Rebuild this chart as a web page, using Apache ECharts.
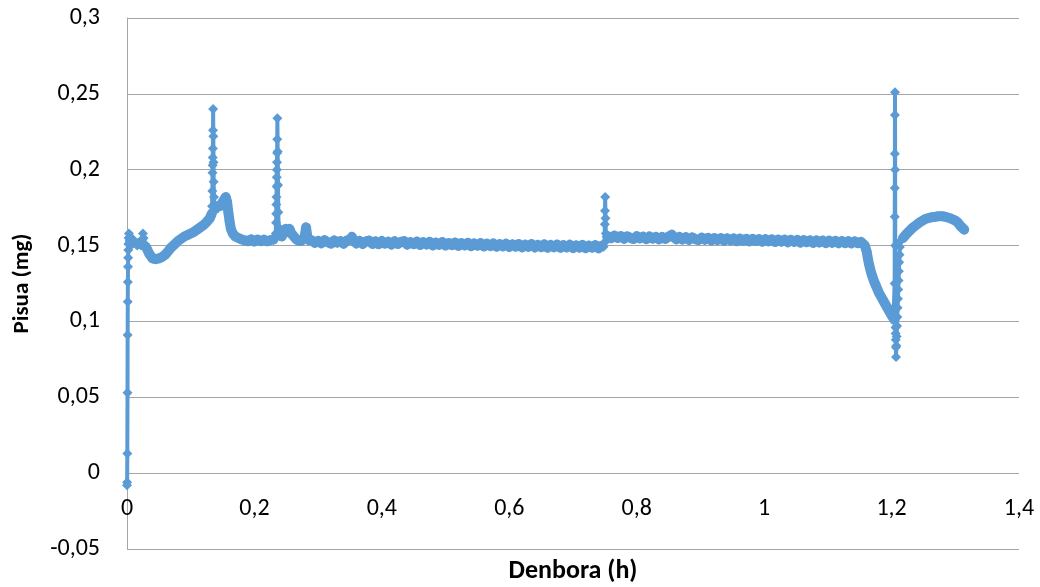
<!DOCTYPE html>
<html>
<head>
<meta charset="utf-8">
<script src="https://cdn.jsdelivr.net/npm/echarts@6/dist/echarts.min.js"></script>
<style>
html,body{margin:0;padding:0;background:#fff;}
#chart{width:1040px;height:587px;}
</style>
</head>
<body>
<div id="chart"></div>
<script>
// Axis settings
const xTicks = [0, 0.2, 0.4, 0.6, 0.8, 1, 1.2, 1.4];
const yTicks = [-0.05, 0, 0.05, 0.1, 0.15, 0.2, 0.25, 0.3];
const xTitle = 'Denbora (h)';
const yTitle = 'Pisua (mg)';

// Data segments [hours, mg], in recording order
const startRise = [
  [0.000,-0.008],[0.0002,-0.006],[0.0005,0.013],[0.0008,0.053],[0.001,0.091],[0.0012,0.113],
  [0.0014,0.126],[0.0016,0.136],[0.0018,0.142],[0.002,0.147],[0.0022,0.151],[0.0025,0.155],
  [0.003,0.158],[0.004,0.153],[0.005,0.156],[0.006,0.150],[0.008,0.154],[0.010,0.152],
  [0.012,0.153],[0.014,0.151],[0.016,0.150],[0.018,0.152],[0.020,0.151],[0.022,0.150],
  [0.024,0.154],[0.025,0.158],[0.026,0.155],[0.028,0.151]
];
const firstHump = [
  [0.030,0.149],[0.035,0.1445],[0.040,0.1415],[0.045,0.141],[0.050,0.1415],[0.055,0.1425],
  [0.060,0.144],[0.065,0.1465],[0.070,0.149],[0.075,0.151],[0.080,0.153],[0.085,0.1545],
  [0.090,0.156],[0.095,0.157],[0.100,0.158],[0.105,0.159],[0.110,0.1605],[0.115,0.162],
  [0.120,0.1635],[0.125,0.1655],[0.130,0.168],[0.133,0.171]
];
const spikeOne = [
  [0.1335,0.176],[0.134,0.186],[0.1342,0.198],[0.1344,0.203],[0.1346,0.208],[0.1348,0.214],
  [0.135,0.226],[0.1352,0.240],[0.1355,0.222],[0.1358,0.205],[0.136,0.192],[0.1365,0.182],
  [0.137,0.176],[0.138,0.174],[0.140,0.176],[0.143,0.175],[0.146,0.176],[0.149,0.178],
  [0.152,0.180],[0.155,0.182],[0.157,0.179],[0.159,0.172],[0.161,0.166],[0.163,0.161],
  [0.166,0.158],[0.170,0.156],[0.175,0.155],[0.180,0.154]
];
const plateauOne = [
  [0.185,0.1535],[0.190,0.1528],[0.195,0.1541],[0.200,0.1527],[0.205,0.1540],[0.210,0.1529],
  [0.215,0.1539],[0.220,0.1528],[0.225,0.1536],[0.230,0.1540]
];
const spikeTwo = [
  [0.2335,0.158],[0.234,0.165],[0.2342,0.171],[0.2344,0.177],[0.2346,0.182],[0.2348,0.189],
  [0.235,0.195],[0.2352,0.200],[0.2354,0.205],[0.2356,0.211],[0.2358,0.220],[0.236,0.234],
  [0.2365,0.212],[0.237,0.190],[0.2375,0.172],[0.238,0.162],[0.240,0.158],[0.243,0.156],
  [0.246,0.159],[0.249,0.161],[0.252,0.159],[0.255,0.161],[0.258,0.158],[0.262,0.156],
  [0.266,0.154],[0.270,0.153],[0.275,0.1535],[0.279,0.156],[0.281,0.162],[0.283,0.156],
  [0.286,0.1535]
];
const plateauTwo = [
  [0.290,0.1535],[0.295,0.1518],[0.300,0.1531],[0.305,0.1515],[0.310,0.1536],[0.315,0.1522],
  [0.320,0.1513],[0.325,0.1534],[0.330,0.1519],[0.335,0.1530],[0.340,0.1512],[0.345,0.1533],
  [0.350,0.1540],[0.353,0.1558],[0.356,0.1530],[0.360,0.1514],[0.365,0.1531],[0.370,0.1510],
  [0.375,0.1528],[0.380,0.1533],[0.385,0.1511],[0.390,0.1527],[0.395,0.1508],[0.400,0.1530],
  [0.405,0.1513],[0.410,0.1526],[0.415,0.1506],[0.420,0.1528],[0.425,0.1511],[0.430,0.1524],
  [0.435,0.1530],[0.440,0.1506],[0.445,0.1523],[0.450,0.1509],[0.455,0.1527],[0.460,0.1504],
  [0.465,0.1522],[0.470,0.1507],[0.475,0.1525],[0.480,0.1501],[0.485,0.1520],[0.490,0.1505],
  [0.495,0.1523],[0.500,0.1500],[0.505,0.1517],[0.510,0.1503],[0.515,0.1521],[0.520,0.1498],
  [0.525,0.1516],[0.530,0.1501],[0.535,0.1519],[0.540,0.1496],[0.545,0.1514],[0.550,0.1499],
  [0.555,0.1517],[0.560,0.1494],[0.565,0.1512],[0.570,0.1497],[0.575,0.1514],[0.580,0.1492],
  [0.585,0.1510],[0.590,0.1495],[0.595,0.1512],[0.600,0.1491],[0.605,0.1508],[0.610,0.1493],
  [0.615,0.1511],[0.620,0.1489],[0.625,0.1506],[0.630,0.1492],[0.635,0.1510],[0.640,0.1488],
  [0.645,0.1505],[0.650,0.1490],[0.655,0.1508],[0.660,0.1486],[0.665,0.1504],[0.670,0.1489],
  [0.675,0.1507],[0.680,0.1485],[0.685,0.1503],[0.690,0.1488],[0.695,0.1505],[0.700,0.1484],
  [0.705,0.1501],[0.710,0.1487],[0.715,0.1504],[0.720,0.1483],[0.725,0.1500],[0.730,0.1486],
  [0.735,0.1503],[0.740,0.1482],[0.745,0.1499]
];
const stepUp = [
  [0.748,0.1492],[0.7495,0.152],[0.750,0.164],[0.7502,0.173],[0.7505,0.182],[0.751,0.168],
  [0.7515,0.158],[0.753,0.1558]
];
const plateauThree = [
  [0.755,0.1562],[0.760,0.1549],[0.765,0.1566],[0.770,0.1550],[0.775,0.1563],[0.780,0.1545],
  [0.785,0.1561],[0.790,0.1551],[0.795,0.1543],[0.800,0.1562],[0.805,0.1547],[0.810,0.1559],
  [0.815,0.1542],[0.820,0.1560],[0.825,0.1546],[0.830,0.1558],[0.835,0.1541],[0.840,0.1557],
  [0.845,0.1544],[0.850,0.1559],[0.855,0.1572],[0.858,0.1556],[0.862,0.1541],[0.867,0.1557],
  [0.872,0.1540],[0.877,0.1555],[0.882,0.1538],[0.887,0.1554],[0.892,0.1542],[0.897,0.1536],
  [0.902,0.1553],[0.907,0.1538],[0.912,0.1551],[0.917,0.1534],[0.922,0.1550],[0.927,0.1536],
  [0.932,0.1549],[0.937,0.1532],[0.942,0.1548],[0.947,0.1534],[0.952,0.1547],[0.957,0.1530],
  [0.962,0.1546],[0.967,0.1532],[0.972,0.1545],[0.977,0.1528],[0.982,0.1544],[0.987,0.1530],
  [0.992,0.1543],[0.997,0.1526],[1.002,0.1542],[1.007,0.1528],[1.012,0.1541],[1.017,0.1524],
  [1.022,0.1540],[1.027,0.1526],[1.032,0.1539],[1.037,0.1522],[1.042,0.1538],[1.047,0.1524],
  [1.052,0.1537],[1.057,0.1520],[1.062,0.1536],[1.067,0.1522],[1.072,0.1535],[1.077,0.1518],
  [1.082,0.1534],[1.087,0.1520],[1.092,0.1533],[1.097,0.1516],[1.102,0.1532],[1.107,0.1518],
  [1.112,0.1531],[1.117,0.1515],[1.122,0.1530],[1.127,0.1516],[1.132,0.1529],[1.137,0.1514],
  [1.142,0.1528],[1.147,0.1515],[1.152,0.1525],[1.155,0.1515]
];
const dropDown = [
  [1.158,0.150],[1.161,0.146],[1.163,0.141],[1.165,0.137],[1.168,0.132],[1.172,0.127],
  [1.176,0.123],[1.180,0.119],[1.184,0.116],[1.188,0.113],[1.192,0.110],[1.196,0.107],
  [1.200,0.104],[1.203,0.102],[1.2045,0.101]
];
const spikeThree = [
  [1.2048,0.125],[1.205,0.169],[1.2051,0.188],[1.2052,0.2105],[1.2053,0.236],[1.2054,0.251],
  [1.2056,0.200],[1.2058,0.150],[1.206,0.110],[1.2062,0.096],[1.2064,0.092],[1.2066,0.088],
  [1.2068,0.083],[1.207,0.0765],[1.2075,0.084],[1.208,0.090],[1.2085,0.097],[1.209,0.103],
  [1.2095,0.109],[1.210,0.115],[1.2105,0.121],[1.211,0.127],[1.2115,0.133],[1.212,0.139],
  [1.2125,0.144],[1.213,0.149],[1.214,0.153]
];
const finalArc = [
  [1.218,0.155],[1.222,0.157],[1.226,0.1588],[1.229,0.160],[1.233,0.1617],[1.237,0.163],
  [1.241,0.1643],[1.245,0.1655],[1.249,0.1665],[1.253,0.1675],[1.257,0.168],[1.261,0.1685],
  [1.265,0.1688],[1.269,0.169],[1.273,0.1693],[1.276,0.1695],[1.280,0.1693],[1.284,0.169],
  [1.288,0.1685],[1.292,0.168],[1.296,0.1672],[1.300,0.1665],[1.304,0.1652],[1.308,0.163],
  [1.311,0.1618],[1.314,0.1605]
];

const series = [].concat(startRise, firstHump, spikeOne, plateauOne, spikeTwo, plateauTwo,
  stepUp, plateauThree, dropDown, spikeThree, finalArc);

// The densely sampled stretches form a thick band in the original; draw them again as a wide stroke
const gap = [['-', '-']];
const denseBand = [].concat(firstHump, gap, spikeOne.slice(13), plateauOne, gap,
  spikeTwo.slice(16), plateauTwo, gap, plateauThree, dropDown, gap, finalArc);

const fmt = v => {
  const r = Math.round(v * 1000) / 1000;
  return String(r).replace('.', ',');
};

const FONT = 'Carlito, "Liberation Sans", Arial, sans-serif';
const GRID = '#a6a6a6';
const BLUE = '#5b9bd5';

const chart = echarts.init(document.getElementById('chart'), null, {renderer: 'canvas'});
chart.setOption({
  animation: false,
  backgroundColor: '#ffffff',
  grid: {left: 127, right: 21, top: 18, bottom: 38, containLabel: false, outerBoundsMode: 'none'},
  xAxis: {
    type: 'value',
    min: xTicks[0], max: xTicks[xTicks.length - 1], interval: 0.2,
    name: xTitle, nameLocation: 'middle', nameGap: 9,
    nameTextStyle: {fontFamily: FONT, fontSize: 26, fontWeight: 'bold', color: '#000'},
    axisLine: {show: false, onZero: false},
    axisTick: {show: false},
    axisLabel: {fontFamily: FONT, fontSize: 24, color: '#000', margin: -52, formatter: fmt},
    splitLine: {show: false}
  },
  yAxis: {
    type: 'value',
    min: yTicks[0], max: yTicks[yTicks.length - 1], interval: 0.05,
    name: yTitle, nameLocation: 'middle', nameGap: 93, nameRotate: 90,
    nameTextStyle: {fontFamily: FONT, fontSize: 23, fontWeight: 'bold', color: '#000'},
    axisLine: {show: true, onZero: false, lineStyle: {color: GRID, width: 1}},
    axisTick: {show: false},
    axisLabel: {fontFamily: FONT, fontSize: 24, color: '#000', margin: 27, formatter: fmt},
    splitLine: {show: true, lineStyle: {color: GRID, width: 1}}
  },
  series: [{
    type: 'line',
    data: denseBand,
    showSymbol: false,
    connectNulls: false,
    lineStyle: {color: BLUE, width: 10, join: 'round', cap: 'round'},
    emphasis: {disabled: true},
    silent: true,
    z: 2
  }, {
    type: 'line',
    data: series,
    symbol: 'diamond',
    symbolSize: 10,
    showSymbol: true,
    showAllSymbol: true,
    lineStyle: {color: BLUE, width: 4},
    itemStyle: {color: BLUE, borderWidth: 0},
    emphasis: {disabled: true},
    z: 3
  }]
});
</script>
</body>
</html>
